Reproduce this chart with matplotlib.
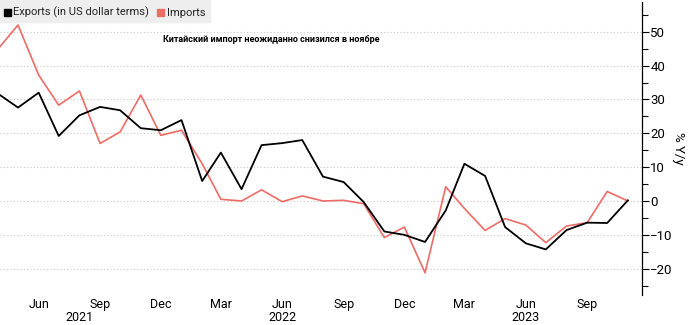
import matplotlib
matplotlib.use("Agg")
import matplotlib.pyplot as plt
import matplotlib.dates as mdates
import matplotlib.transforms as mtransforms
from matplotlib.ticker import MultipleLocator
import pandas as pd

months = pd.date_range("2021-04-01", "2023-11-01", freq="MS")

exports = [31.7, 27.6, 32.0, 19.2, 25.3, 27.8, 26.8, 21.5, 20.9,
           23.9, 5.9, 14.3, 3.5, 16.5, 17.1, 18.0, 7.2, 5.6, -0.3, -9.0, -10.0,
           -12.1, -2.8, 11.0, 7.4, -7.7, -12.5, -14.3, -8.6, -6.4, -6.5, 0.2]
imports = [44.9, 52.0, 37.2, 28.3, 32.5, 17.0, 20.4, 31.3, 19.4,
           20.9, 11.0, 0.5, 0.0, 3.3, -0.2, 1.5, 0.0, 0.2, -0.8, -10.8, -7.7,
           -21.2, 4.2, -2.2, -8.7, -5.2, -7.1, -12.3, -7.4, -6.4, 2.8, 0.0]

year_labels = ["2021", "2022", "2023"]
year_dates = pd.to_datetime(["2021-08-01", "2022-06-01", "2023-06-01"])

title = "Китайский импорт неожиданно снизился в ноябре"
font = ["Roboto", "DejaVu Sans"]
red = "#ee6b66"

fig = plt.figure(figsize=(7, 3.25), dpi=100)
ax = fig.add_axes([0.0, 0.092, 0.917, 0.902])

ax.plot(months, imports, color=red, lw=1.2, zorder=3)
ax.plot(months, exports, color="black", lw=1.3, zorder=4)

ax.set_ylim(-27.8, 58.8)
ax.set_xlim(pd.Timestamp("2021-04-04"), pd.Timestamp("2023-11-22"))

# y axis on the right
ax.yaxis.tick_right()
ax.yaxis.set_major_locator(MultipleLocator(10))
ax.yaxis.set_minor_locator(MultipleLocator(5))
ax.tick_params(axis="y", which="major", length=5, width=0.8, labelsize=9.5, pad=1)
ax.tick_params(axis="y", which="minor", length=4, width=0.8)
for lbl in ax.get_yticklabels():
    lbl.set_family(font)
ax.yaxis.set_label_position("right")
ax.set_ylabel("% Y/y", rotation=270, fontsize=9.5, family=font, labelpad=9)
ax.grid(axis="y", which="major", color="#c8c8c8", ls=(0, (1, 2)), lw=0.8)

for s in ["top", "left", "bottom"]:
    ax.spines[s].set_visible(False)
ax.spines["right"].set_linewidth(0.9)

# x axis: quarter months, years below
ax.xaxis.set_major_locator(mdates.MonthLocator(bymonth=[3, 6, 9, 12]))
ax.xaxis.set_major_formatter(mdates.DateFormatter("%b"))
ax.tick_params(axis="x", length=0, labelsize=9, pad=2)
for lbl in ax.get_xticklabels():
    lbl.set_family(font)
tr = mtransforms.blended_transform_factory(ax.transData, fig.transFigure)
for lab, d in zip(year_labels, year_dates):
    ax.text(d, 0.002, lab, transform=tr, ha="center", va="bottom",
            fontsize=9, family=font)

# title
fig.text(0.387, 0.877, title, ha="center", va="center", fontsize=6.5,
         fontweight="bold", family=font)

# legend box
fig.patches.append(plt.Rectangle((0, 1 - 22 / 325), 210 / 700, 22 / 325,
                                 transform=fig.transFigure, color="#eeeeee",
                                 zorder=0))
fig.patches.append(plt.Rectangle((4 / 700, 1 - 16 / 325), 7 / 700, 7 / 325,
                                 transform=fig.transFigure, color="black"))
fig.text(13 / 700, 1 - 12.5 / 325, "Exports (in US dollar terms)",
         va="center", ha="left", fontsize=8, family=font, color="#222222")
fig.patches.append(plt.Rectangle((157 / 700, 1 - 16 / 325), 7 / 700, 7 / 325,
                                 transform=fig.transFigure, color=red))
fig.text(167 / 700, 1 - 12.5 / 325, "Imports",
         va="center", ha="left", fontsize=8, family=font, color="#222222")

fig.savefig("out.png", dpi=100)
